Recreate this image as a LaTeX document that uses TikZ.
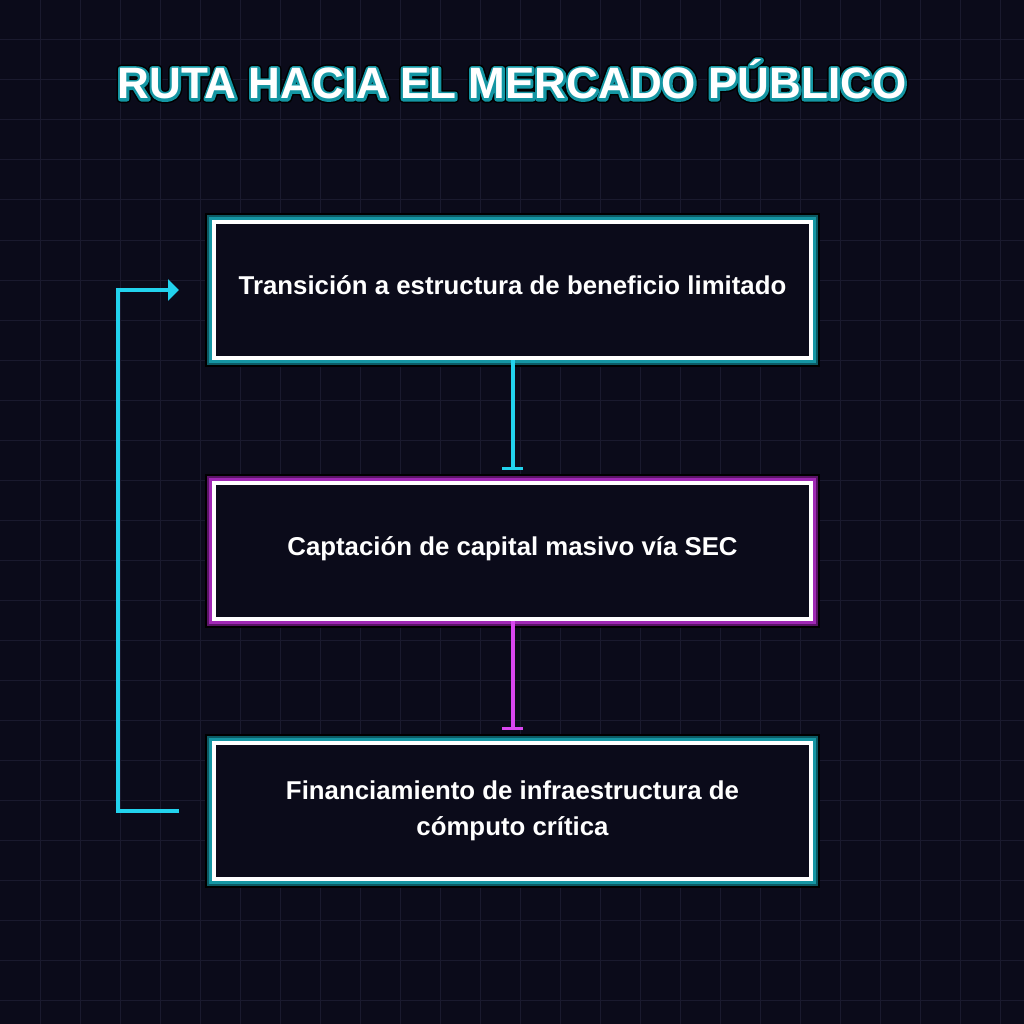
\documentclass[tikz,border=0pt]{standalone}
\usepackage{fontspec}
\setmainfont{Liberation Sans}
\usetikzlibrary{arrows.meta}
\definecolor{bgc}{HTML}{0B0B1A}
\definecolor{gridc}{HTML}{1A1A2E}
\definecolor{cyanc}{HTML}{22D3EE}
\definecolor{tealA}{HTML}{0C5A64}
\definecolor{tealB}{HTML}{1596A3}
\definecolor{magA}{HTML}{5A1466}
\definecolor{magB}{HTML}{A028B4}
\definecolor{magc}{HTML}{D946EF}
\newcommand{\strokemode}[2]{\special{pdf:literal direct 1 Tr 1 j 1 J #1 w #2 RG}}
\newcommand{\fillmode}{\special{pdf:literal direct 0 Tr}}
\tikzset{
  boxbase/.style={minimum width=597pt, minimum height=136pt, inner sep=0pt,
    fill=bgc, draw=white, line width=4pt, text=white,
    font=\fontsize{25.8}{36}\selectfont\bfseries, align=center},
  oneline/.style={text height=9pt, text depth=0pt},
  tealbox/.style={boxbase,
    preaction={draw=black, line width=18pt},
    preaction={draw=tealA, line width=14pt},
    preaction={draw=tealB, line width=10pt}},
  magbox/.style={boxbase,
    preaction={draw=black, line width=18pt},
    preaction={draw=magA, line width=14pt},
    preaction={draw=magB, line width=10pt}},
  flow/.style={line width=4pt, -{Bar[width=21pt,line width=2.5pt]}, shorten >=11pt},
  loopline/.style={draw=cyanc, line width=4pt, -{Triangle[length=11pt,width=21pt]}},
  titlestyle/.style={text=white, font=\fontsize{44}{52}\selectfont\bfseries, anchor=base},
}
\begin{document}
\begin{tikzpicture}[x=1pt,y=-1pt]
\fill[bgc] (0,0) rectangle (1024,1024);
\useasboundingbox (0,0) rectangle (1024,1024);
\foreach \g in {40,80,...,1000}{
  \draw[gridc, line width=1pt] (\g,0) -- (\g,1024);
  \draw[gridc, line width=1pt] (0,\g) -- (1024,\g);
}
% title with glow (stroked outlines under the filled text)
\node[titlestyle] (title) at (512,99) {\strokemode{8}{0 0 0}\rlap{RUTA HACIA EL MERCADO PÚBLICO}\strokemode{5}{0.08 0.59 0.64}\rlap{RUTA HACIA EL MERCADO PÚBLICO}\fillmode RUTA HACIA EL MERCADO PÚBLICO};

\node[tealbox, oneline] (b1) at (512.5,290) {Transición a estructura de beneficio limitado};
\node[magbox, oneline]  (b2) at (512.5,550.5) {Captación de capital masivo vía SEC};
\node[tealbox] (b3) at (512.5,810.5) {Financiamiento de infraestructura de\\cómputo crítica};

\draw[flow, cyanc] (b1.south) -- (b2.north);
\draw[flow, magc] (b2.south) -- (b3.north);
\draw[loopline] ([xshift=-33pt]b3.west) -- ++(-61,0) |- ([xshift=-33pt]b1.west);
\end{tikzpicture}
\end{document}
